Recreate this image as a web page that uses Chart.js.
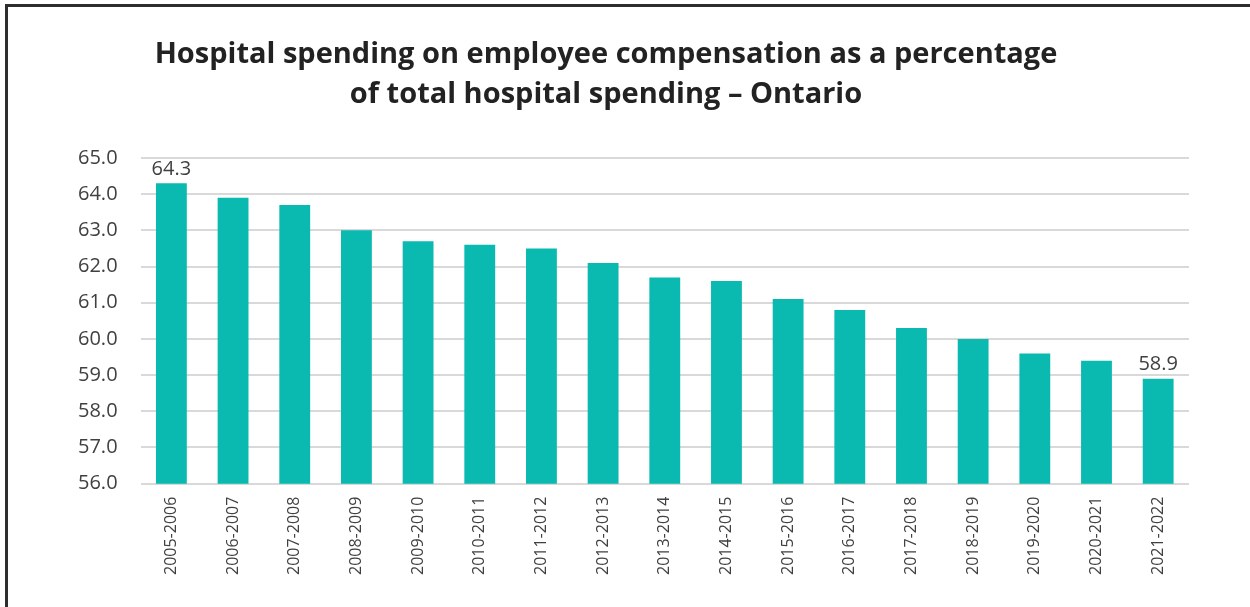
<!DOCTYPE html>
<html>
<head>
<meta charset="utf-8">
<script src="https://cdn.jsdelivr.net/npm/chart.js@4/dist/chart.umd.min.js"></script>
<style>
  html, body { margin: 0; padding: 0; background: #fff; }
  body { width: 1250px; height: 607px; overflow: hidden; position: relative; }
  .frame {
    position: absolute; left: 5px; top: 4px; right: 0; bottom: 0;
    border-left: 3px solid #2e2e2e; border-top: 3px solid #2e2e2e;
  }
  .wrap { position: absolute; left: 8px; top: 7px; width: 1196px; height: 600px; }
</style>
</head>
<body>
<div class="frame"></div>
<div class="wrap"><canvas id="spendChart"></canvas></div>
<script>
// Fiscal years on the x axis
const years = [
  '2005-2006', '2006-2007', '2007-2008', '2008-2009', '2009-2010', '2010-2011',
  '2011-2012', '2012-2013', '2013-2014', '2014-2015', '2015-2016', '2016-2017',
  '2017-2018', '2018-2019', '2019-2020', '2020-2021', '2021-2022'
];
// Compensation share of total hospital spending (%)
const compShare = [
  64.3, 63.9, 63.7, 63.0, 62.7, 62.6, 62.5, 62.1, 61.7, 61.6,
  61.1, 60.8, 60.3, 60.0, 59.6, 59.4, 58.9
];
// Only the first and last bars carry a value label
const labelledBars = [0, 16];
const yMin = 56, yMax = 65, yStep = 1;
const titleLines = [
  'Hospital spending on employee compensation as a percentage',
  'of total hospital spending \u2013 Ontario'
];

const textGrey = '#404040';
const font = '"Open Sans", sans-serif';

// title drawn by hand so it can sit left of the plot's centre
const chartTitle = {
  id: 'chartTitle',
  afterDraw(chart) {
    const ctx = chart.ctx;
    ctx.save();
    ctx.fillStyle = '#222';
    ctx.font = 'bold 29px ' + font;
    ctx.textAlign = 'center';
    ctx.textBaseline = 'alphabetic';
    titleLines.forEach((line, i) => ctx.fillText(line, 598, 56 + i * 40));
    ctx.restore();
  }
};

// draws the value above the chosen bars
const barValueLabels = {
  id: 'barValueLabels',
  afterDatasetsDraw(chart) {
    const ctx = chart.ctx;
    const meta = chart.getDatasetMeta(0);
    ctx.save();
    ctx.fillStyle = textGrey;
    ctx.font = '20px ' + font;
    ctx.textAlign = 'center';
    ctx.textBaseline = 'bottom';
    labelledBars.forEach(i => {
      const bar = meta.data[i];
      ctx.fillText(compShare[i].toFixed(1), bar.x, bar.y - 4);
    });
    ctx.restore();
  }
};

new Chart(document.getElementById('spendChart'), {
  type: 'bar',
  data: {
    labels: years,
    datasets: [{
      data: compShare,
      backgroundColor: '#0ab9b0',
      barPercentage: 0.5,
      categoryPercentage: 1.0
    }]
  },
  options: {
    responsive: true,
    maintainAspectRatio: false,
    animation: false,
    layout: { padding: { left: 47, right: 15, top: 151, bottom: 27 } },
    plugins: {
      legend: { display: false },
      tooltip: { enabled: false },
      title: { display: false }
    },
    scales: {
      x: {
        grid: { display: false },
        border: { display: false },
        ticks: {
          color: textGrey,
          font: { family: font, size: 16 },
          minRotation: 90,
          maxRotation: 90,
          padding: 5
        }
      },
      y: {
        min: yMin,
        max: yMax,
        border: { display: false },
        grid: { color: '#d9d9d9', lineWidth: 2, drawTicks: false },
        ticks: {
          stepSize: yStep,
          color: textGrey,
          font: { family: font, size: 20 },
          padding: 23,
          callback: v => v.toFixed(1)
        }
      }
    }
  },
  plugins: [barValueLabels, chartTitle]
});
</script>
</body>
</html>
